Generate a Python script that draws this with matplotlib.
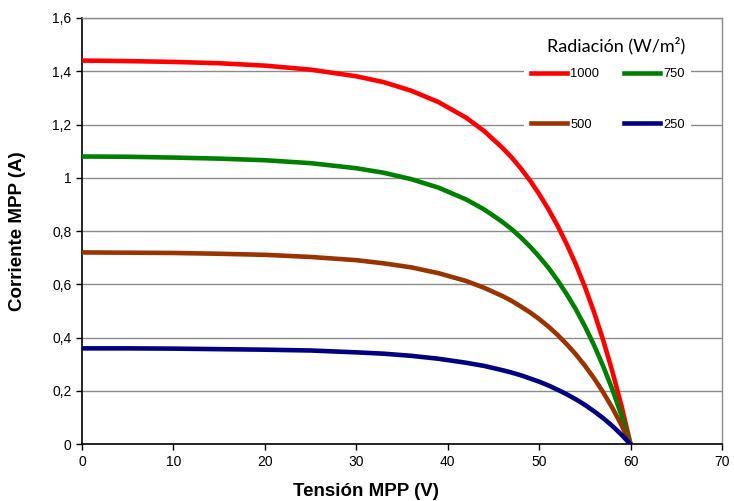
import numpy as np
import matplotlib.pyplot as plt

# MPP curves: voltage (V) and current (A) per irradiance
v_mpp = [0, 5, 10, 15, 20, 25, 30, 33, 36, 39, 42, 44, 46, 47, 48, 49, 50,
         51, 52, 53, 54, 55, 56, 57, 58, 59, 60]
i_1000 = [1.440, 1.438, 1.435, 1.430, 1.421, 1.406, 1.381, 1.359, 1.327, 1.284, 1.226,
          1.175, 1.112, 1.076, 1.035, 0.990, 0.939, 0.883, 0.821, 0.752, 0.676, 0.591,
          0.496, 0.391, 0.274, 0.145, 0.0]
i_750 = [1.080, 1.079, 1.076, 1.072, 1.066, 1.055, 1.036, 1.019, 0.995, 0.963, 0.919,
         0.881, 0.834, 0.807, 0.776, 0.742, 0.704, 0.663, 0.616, 0.564, 0.507, 0.443,
         0.372, 0.293, 0.206, 0.109, 0.0]
i_500 = [0.720, 0.719, 0.718, 0.715, 0.711, 0.703, 0.691, 0.679, 0.664, 0.642, 0.613,
         0.587, 0.556, 0.538, 0.517, 0.495, 0.470, 0.442, 0.411, 0.376, 0.338, 0.295,
         0.248, 0.195, 0.137, 0.072, 0.0]
i_250 = [0.360, 0.360, 0.359, 0.357, 0.355, 0.352, 0.345, 0.340, 0.332, 0.321, 0.306,
         0.294, 0.278, 0.269, 0.259, 0.247, 0.235, 0.221, 0.205, 0.188, 0.169, 0.148,
         0.124, 0.098, 0.069, 0.036, 0.0]

series = [
    ("1000", i_1000, "#FF0000"),
    ("750", i_750, "#008000"),
    ("500", i_500, "#993300"),
    ("250", i_250, "#000080"),
]

x_ticks = [0, 10, 20, 30, 40, 50, 60, 70]
y_ticks = [0, 0.2, 0.4, 0.6, 0.8, 1.0, 1.2, 1.4, 1.6]
y_tick_labels = ["0", "0,2", "0,4", "0,6", "0,8", "1", "1,2", "1,4", "1,6"]

plt.rcParams['font.family'] = ['Liberation Sans', 'DejaVu Sans']

fig = plt.figure(figsize=(7.34, 5.01), dpi=100)
ax = fig.add_axes([0.1117, 0.1132, 0.872, 0.851])

lines = {}
for name, i, c in series:
    ln, = ax.plot(v_mpp, i, color=c, lw=3.3, label=name, zorder=3)
    lines[name] = ln

ax.set_xlim(0, 70)
ax.set_ylim(0, 1.6)
ax.set_xticks(x_ticks)
ax.set_yticks(y_ticks)
ax.set_yticklabels(y_tick_labels)
ax.tick_params(direction='out', length=4, width=1, colors='black', labelsize=10)
ax.yaxis.grid(True, color='#8c8c8c', lw=1)
ax.set_axisbelow(True)

for s in ['left', 'bottom']:
    ax.spines[s].set_color('black')
    ax.spines[s].set_linewidth(1.2)
for s in ['top', 'right']:
    ax.spines[s].set_color('#8c8c8c')
    ax.spines[s].set_linewidth(1)

ax.set_xlabel("Tensión MPP (V)", fontsize=13.5, fontweight='bold', va='center')
ax.set_ylabel("Corriente MPP (A)", fontsize=13.5, fontweight='bold', va='center')
ax.xaxis.set_label_coords(0.444, -0.110)
ax.yaxis.set_label_coords(-0.10, 0.5)

# legend: 1000/750 on the first row, 500/250 on the second
order = ["1000", "500", "750", "250"]
leg = ax.legend([lines[k] for k in order], order, ncol=2, loc='upper right',
                bbox_to_anchor=(0.962, 0.985), frameon=True, facecolor='white',
                edgecolor='none', framealpha=1, fontsize=9.3,
                handlelength=2.8, handletextpad=0.25, columnspacing=1.9,
                labelspacing=3.0, borderpad=0.5)
leg.set_title("Radiación (W/m²)", prop={'family': ['Lato', 'DejaVu Sans'], 'size': 13})
leg._legend_box.align = "right"
leg._legend_box.sep = 9.5

fig.savefig("out.png", dpi=100)
